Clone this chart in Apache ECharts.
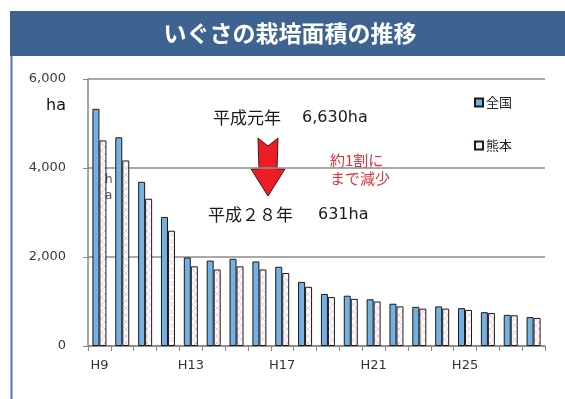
<!DOCTYPE html>
<html><head><meta charset="utf-8">
<script src="https://cdn.jsdelivr.net/npm/echarts@6/dist/echarts.min.js"></script>
<style>html,body{margin:0;padding:0;background:#fff;}#c{width:565px;height:399px;}</style>
</head><body><div id="c"></div>
<script>
var categories = ['H9','H10','H11','H12','H13','H14','H15','H16','H17','H18','H19','H20','H21','H22','H23','H24','H25','H26','H27','H28'];
var zenkoku = [5330, 4690, 3690, 2900, 1990, 1920, 1960, 1900, 1780, 1440, 1170, 1130, 1050, 950, 880, 890, 850, 760, 700, 650];
var kumamoto = [4620, 4170, 3310, 2590, 1790, 1720, 1790, 1720, 1640, 1330, 1100, 1060, 1000, 890, 840, 840, 810, 740, 690, 631];
var seriesNames = ['全国', '熊本'];
var yTicks = [0, 2000, 4000, 6000];

var pc = document.createElement('canvas');
pc.width = 7; pc.height = 7;
var g = pc.getContext('2d');
g.fillStyle = '#fffafc'; g.fillRect(0,0,7,7);
g.strokeStyle = '#efbfd0'; g.lineWidth = 0.8;
g.beginPath(); g.moveTo(0,0); g.lineTo(7,7); g.moveTo(7,0); g.lineTo(0,7); g.stroke();
var pinkPattern = {image: pc, repeat: 'repeat'};

var chart = echarts.init(document.getElementById('c'), null, {renderer: 'canvas'});
var fontJP = '"Noto Sans CJK JP", sans-serif';
chart.setOption({
  animation: false,
  backgroundColor: '#fff',
  grid: {left: 88, right: 20, top: 79, bottom: 53},
  legend: {
    orient: 'vertical', left: 469, top: 91, itemGap: 30,
    itemWidth: 8, itemHeight: 8, icon: 'rect',
    textStyle: {fontSize: 13, color: '#222', fontFamily: fontJP, padding: [0,0,0,-2]},
    data: seriesNames
  },
  xAxis: {
    type: 'category', data: categories,
    axisLine: {lineStyle: {color: '#888', width: 1.5}},
    axisTick: {show: true, interval: 0, length: 5, lineStyle: {color: '#888'}},
    axisLabel: {interval: 3, margin: 13, fontSize: 13, color: '#333', fontFamily: 'DejaVu Sans'}
  },
  yAxis: {
    type: 'value', min: yTicks[0], max: yTicks[yTicks.length-1], interval: 2000,
    axisLine: {show: true, lineStyle: {color: '#888', width: 1.5}},
    axisTick: {show: true, length: 5, lineStyle: {color: '#888'}},
    splitLine: {lineStyle: {color: '#8c8c8c', width: 1.5}},
    axisLabel: {margin: 22, fontSize: 13, color: '#3a3a3a', fontFamily: 'DejaVu Sans',
      formatter: function(v){ return v.toLocaleString('en-US'); }}
  },
  series: [
    {name: seriesNames[0], type: 'bar', data: zenkoku, barWidth: 7, barGap: '0%',
     itemStyle: {color: '#74b0e2', borderColor: '#1a1a1a', borderWidth: 1}},
    {name: seriesNames[1], type: 'bar', data: kumamoto, barWidth: 7, barGap: '0%',
     itemStyle: {color: pinkPattern, borderColor: '#1a1a1a', borderWidth: 1}}
  ],
  graphic: [
    {type: 'rect', shape: {x: 10, y: 11, width: 555, height: 45}, style: {fill: '#3f6391'}},
    {type: 'text', x: 290, y: 33, style: {text: 'いぐさの栽培面積の推移', fill: '#fff', font: 'bold 23px "Noto Sans CJK JP"', textAlign: 'center', textVerticalAlign: 'middle'}},
    {type: 'line', shape: {x1: 11.5, y1: 56, x2: 11.5, y2: 399}, style: {stroke: '#5577aa', lineWidth: 2}},
    {type: 'text', x: 66, y: 106, style: {text: 'ha', fill: '#111', font: '16px "DejaVu Sans"', textAlign: 'right', textVerticalAlign: 'middle'}},
    {type: 'text', x: 105, y: 180, style: {text: 'h', fill: '#555', font: '12px "DejaVu Sans"', textVerticalAlign: 'middle'}},
    {type: 'text', x: 105, y: 196, style: {text: 'a', fill: '#555', font: '12px "DejaVu Sans"', textVerticalAlign: 'middle'}},
    {type: 'text', x: 213, y: 118, style: {text: '平成元年', fill: '#1a1a1a', font: '17px "Noto Sans CJK JP"', textVerticalAlign: 'middle'}},
    {type: 'text', x: 302, y: 118, style: {text: '6,630ha', fill: '#1a1a1a', font: '16px "DejaVu Sans"', textVerticalAlign: 'middle'}},
    {type: 'text', x: 208, y: 215, style: {text: '平成２８年', fill: '#1a1a1a', font: '17px "Noto Sans CJK JP"', textVerticalAlign: 'middle'}},
    {type: 'text', x: 318, y: 215, style: {text: '631ha', fill: '#1a1a1a', font: '16px "DejaVu Sans"', textVerticalAlign: 'middle'}},
    {type: 'polygon', shape: {points: [[258,138],[268,146],[278,138],[277,169],[285,169],[268,196],[251,169],[259,169]]},
     style: {fill: '#ee1c24', stroke: '#3a1a1a', lineWidth: 1}},
    {type: 'rect', shape: {x: 327, y: 150, width: 78, height: 38}, style: {fill: '#fff'}},
    {type: 'text', x: 330, y: 160, style: {text: '約1割に', fill: '#e0343a', font: '15px "Noto Sans CJK JP"', textVerticalAlign: 'middle'}},
    {type: 'text', x: 330, y: 178, style: {text: 'まで減少', fill: '#e0343a', font: '15px "Noto Sans CJK JP"', textVerticalAlign: 'middle'}}
  ]
});
</script></body></html>
